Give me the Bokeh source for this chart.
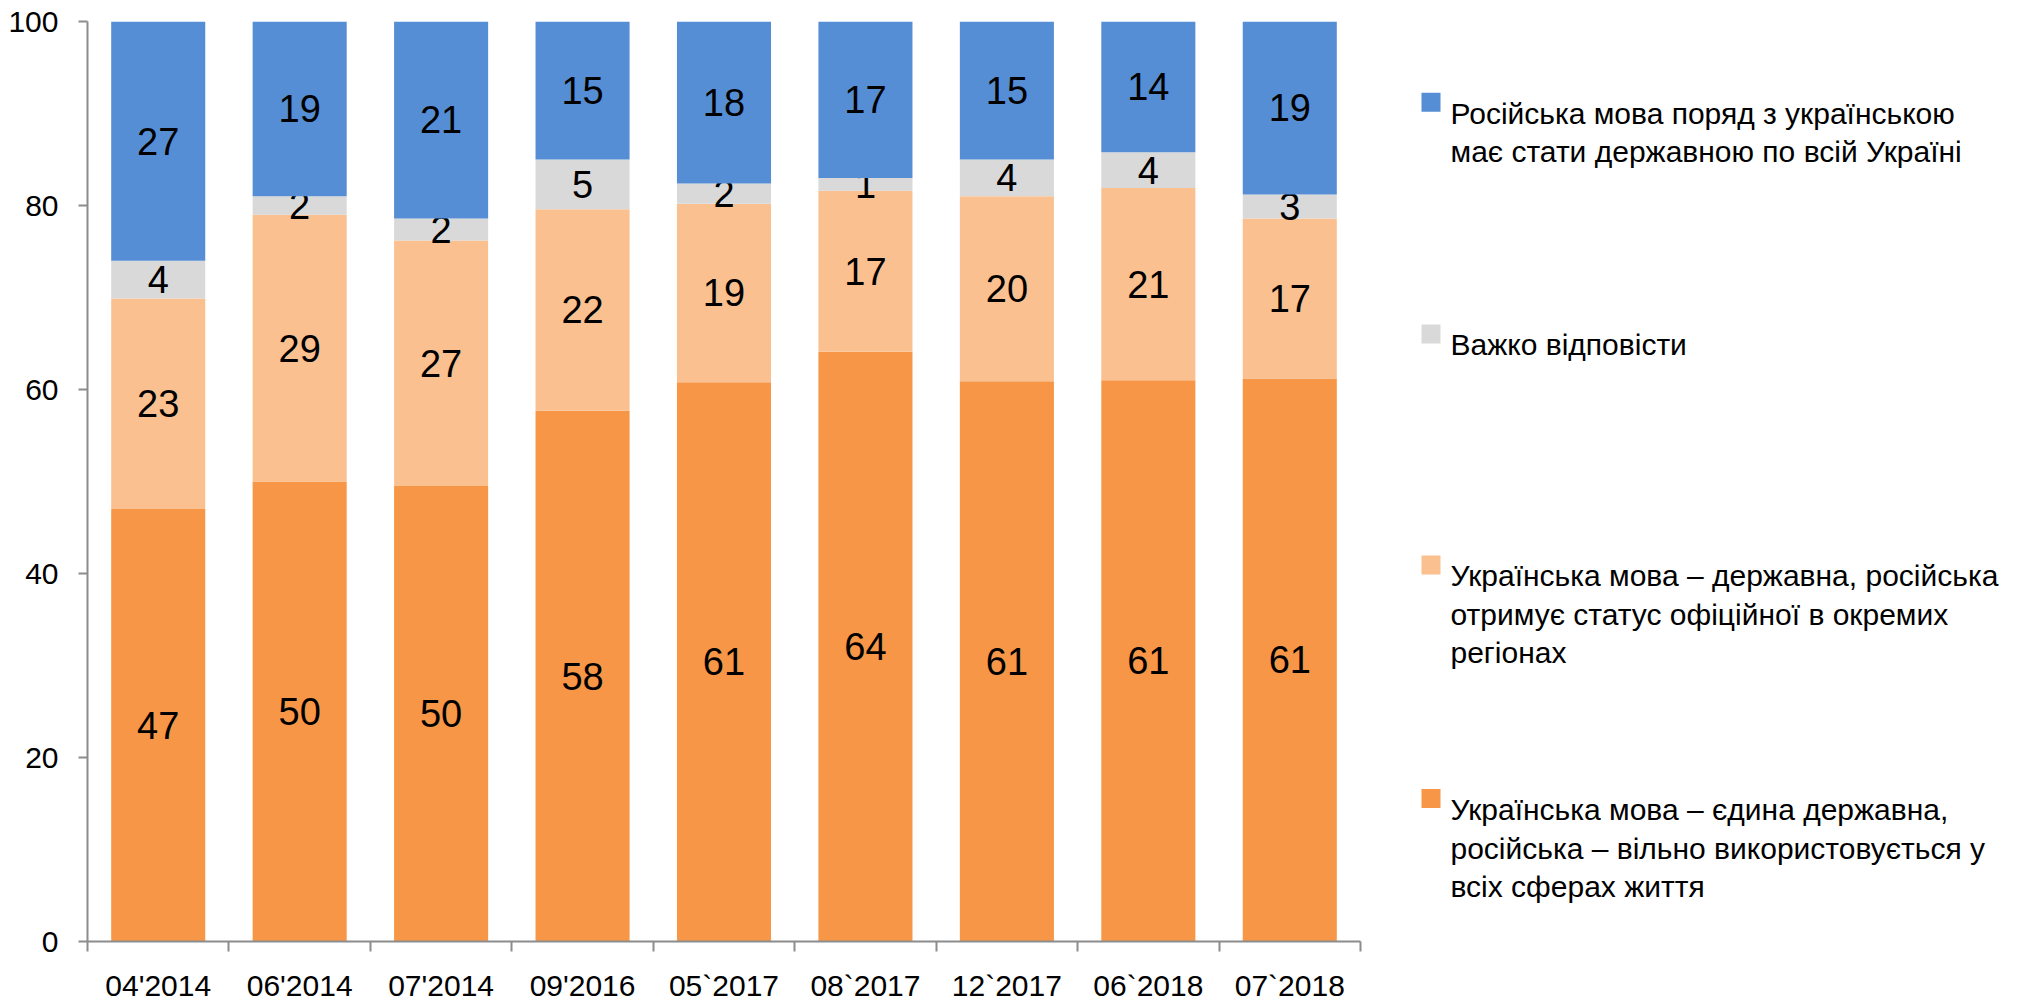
from bokeh.plotting import figure
from bokeh.layouts import row
from bokeh.models import Range1d, FixedTicker, ColumnDataSource
from bokeh.core.properties import value
from bokeh.embed import file_html
from bokeh.resources import INLINE

categories = ["04'2014", "06'2014", "07'2014", "09'2016", "05`2017",
              "08`2017", "12`2017", "06`2018", "07`2018"]
# segment sizes (bottom to top)
only_ukr = [47.0, 50.0, 49.5, 57.7, 60.8, 64.1, 60.9, 61.0, 61.2]
ukr_state_rus_official = [22.9, 29.0, 26.7, 21.9, 19.4, 17.5, 20.1, 20.9, 17.4]
hard_to_say = [4.1, 2.0, 2.4, 5.4, 2.2, 1.4, 4.0, 3.9, 2.6]
rus_state = [26.0, 19.0, 21.4, 15.0, 17.6, 17.0, 15.0, 14.2, 18.8]
# printed labels
lbl_only_ukr = [47, 50, 50, 58, 61, 64, 61, 61, 61]
lbl_ukr_state = [23, 29, 27, 22, 19, 17, 20, 21, 17]
lbl_hard = [4, 2, 2, 5, 2, 1, 4, 4, 3]
lbl_rus = [27, 19, 21, 15, 18, 17, 15, 14, 19]

series_names = [
    "Українська мова – єдина державна,\nросійська – вільно використовується у\nвсіх сферах життя",
    "Українська мова – державна, російська\nотримує статус офіційної в окремих\nрегіонах",
    "Важко відповісти",
    "Російська мова поряд з українською\nмає стати державною по всій Україні",
]
colors = ["#F79646", "#FAC090", "#D9D9D9", "#558ED5"]

FONT = "Liberation Sans"
AXIS_COLOR = "#8C8C8C"

# ---------------- main chart ----------------
PW, H = 1400, 1004
p = figure(width=PW, height=H, output_backend="svg", toolbar_location=None,
           x_range=Range1d(0, len(categories)), y_range=Range1d(0, 100),
           min_border_left=87, min_border_top=21, min_border_right=40,
           min_border_bottom=63)
p.outline_line_color = None
p.xgrid.visible = False
p.ygrid.visible = False

xs = [i + 0.5 for i in range(len(categories))]
series = [only_ukr, ukr_state_rus_official, hard_to_say, rus_state]
labels = [lbl_only_ukr, lbl_ukr_state, lbl_hard, lbl_rus]
bottoms = [0.0] * len(categories)
for vals, lbls, col in zip(series, labels, colors):
    tops = [b + v for b, v in zip(bottoms, vals)]
    mids = [(b + t) / 2 for b, t in zip(bottoms, tops)]
    src = ColumnDataSource(dict(x=xs, bottom=bottoms, top=tops, mid=mids,
                                txt=[str(v) for v in lbls]))
    p.vbar(x="x", bottom="bottom", top="top", width=0.665, source=src,
           fill_color=col, line_color=None)
    p.text(x="x", y="mid", text="txt", source=src, text_align="center",
           text_baseline="middle", text_font=value(FONT),
           text_font_size="38px", text_color="black")
    bottoms = tops

xa = p.xaxis[0]
xa.ticker = FixedTicker(ticks=xs, minor_ticks=list(range(len(categories) + 1)))
xa.major_label_overrides = {x: c for x, c in zip(xs, categories)}
xa.major_tick_out = 0
xa.major_tick_in = 0
xa.minor_tick_out = 10
xa.minor_tick_in = 0
xa.minor_tick_line_color = AXIS_COLOR
xa.minor_tick_line_width = 2
xa.axis_line_color = AXIS_COLOR
xa.axis_line_width = 2
xa.major_label_text_font = FONT
xa.major_label_text_font_size = "30px"
xa.major_label_text_color = "black"
xa.major_label_standoff = 17

ya = p.yaxis[0]
ya.ticker = FixedTicker(ticks=[0, 20, 40, 60, 80, 100])
ya.major_tick_out = 9
ya.major_tick_in = 0
ya.minor_tick_out = 0
ya.minor_tick_in = 0
ya.major_tick_line_color = AXIS_COLOR
ya.major_tick_line_width = 2
ya.axis_line_color = AXIS_COLOR
ya.axis_line_width = 2
ya.major_label_text_font = FONT
ya.major_label_text_font_size = "30px"
ya.major_label_text_color = "black"
ya.major_label_standoff = 20

# ---------------- legend panel (pixel coordinates) ----------------
LW = 2031 - PW
leg = figure(width=LW, height=H, output_backend="svg", toolbar_location=None,
             x_range=Range1d(PW, PW + LW), y_range=Range1d(H, 0),
             min_border=0, x_axis_type=None, y_axis_type=None)
leg.outline_line_color = None
leg.xgrid.visible = False
leg.ygrid.visible = False

order = [3, 2, 1, 0]                 # top to bottom
first_baseline = [100, 353, 605, 860]
line_step = 42
marker_x, text_x = 1430.5, 1450
mk_x, mk_y, mk_c = [], [], []
tx, ty, tt = [], [], []
for idx, b in zip(order, first_baseline):
    mk_x.append(marker_x)
    mk_y.append(b - 12)
    mk_c.append(colors[idx])
    for j, line in enumerate(series_names[idx].split("\n")):
        tx.append(text_x)
        ty.append(b + j * line_step)
        tt.append(line)
leg.scatter(x=mk_x, y=mk_y, color=mk_c, marker="square", size=19,
            line_color=None)
leg.text(x=tx, y=ty, text=tt, text_align="left", text_baseline="alphabetic",
         text_font=value(FONT), text_font_size="30px", text_color="black")

layout = row(p, leg)
open("out.html", "w").write(file_html(layout, INLINE))
